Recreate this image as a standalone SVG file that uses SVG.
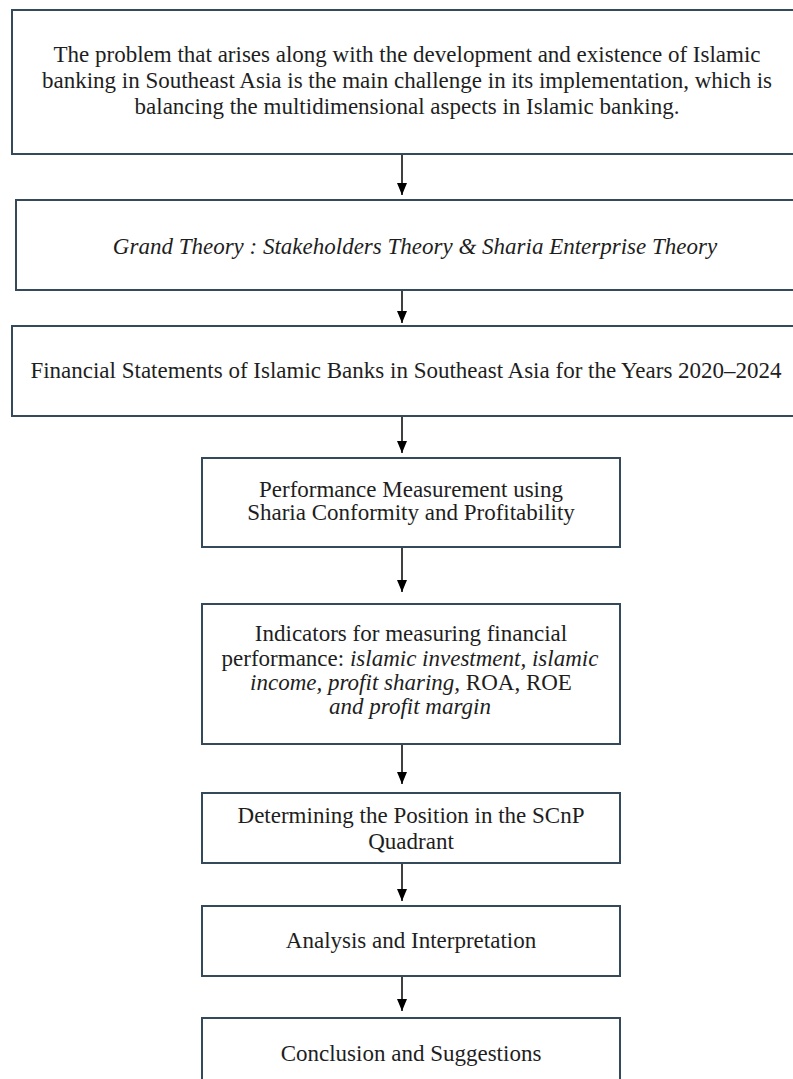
<svg xmlns="http://www.w3.org/2000/svg" width="793" height="1079" viewBox="0 0 793 1079">
<style>
.box{fill:#fff;stroke:#34495a;stroke-width:2}
.t{font-family:"Liberation Serif","Times New Roman",serif;font-size:23px;fill:#1e1e1e;text-anchor:middle}
.i{font-style:italic}
.c{stroke:#000;stroke-width:1.5;fill:none;marker-end:url(#ah)}
</style>
<defs>
<marker id="ah" markerWidth="12" markerHeight="10" refX="12" refY="5" orient="auto" markerUnits="userSpaceOnUse" viewBox="0 0 12 10">
<path d="M0,0 L12,5 L0,10 Z" fill="#000"/>
</marker>
</defs>
<rect width="793" height="1079" fill="#fff"/>
<g id="n1"><rect class="box" x="12" y="10" width="800" height="144"/>
<text class="t" x="407" y="62">The problem that arises along with the development and existence of Islamic</text>
<text class="t" x="407" y="88">banking in Southeast Asia is the main challenge in its implementation, which is</text>
<text class="t" x="407" y="114">balancing the multidimensional aspects in Islamic banking.</text></g>
<g id="n2"><rect class="box" x="16" y="200" width="800" height="90"/>
<text class="t i" x="415" y="254">Grand Theory : Stakeholders Theory &amp; Sharia Enterprise Theory</text></g>
<g id="n3"><rect class="box" x="12" y="326" width="800" height="90"/>
<text class="t" x="406" y="378">Financial Statements of Islamic Banks in Southeast Asia for the Years 2020–2024</text></g>
<g id="n4"><rect class="box" x="202" y="458" width="418" height="89"/>
<text class="t" x="411" y="497">Performance Measurement using</text>
<text class="t" x="411" y="520">Sharia Conformity and Profitability</text></g>
<g id="n5"><rect class="box" x="202" y="604" width="418" height="140"/>
<text class="t" x="411" y="641">Indicators for measuring financial</text>
<text class="t" x="410" y="666">performance: <tspan class="i">islamic investment, islamic</tspan></text>
<text class="t" x="411" y="690"><tspan class="i">income, profit sharing,</tspan> ROA, ROE</text>
<text class="t i" x="410" y="714">and profit margin</text></g>
<g id="n6"><rect class="box" x="202" y="793" width="418" height="70"/>
<text class="t" x="411" y="823">Determining the Position in the SCnP</text>
<text class="t" x="411" y="849">Quadrant</text></g>
<g id="n7"><rect class="box" x="202" y="906" width="418" height="70"/>
<text class="t" x="411" y="948">Analysis and Interpretation</text></g>
<g id="n8"><rect class="box" x="202" y="1018" width="418" height="80"/>
<text class="t" x="411" y="1061">Conclusion and Suggestions</text></g>
<g id="connectors">
<line class="c" x1="402" y1="155" x2="402" y2="195"/>
<line class="c" x1="402" y1="291" x2="402" y2="323"/>
<line class="c" x1="402" y1="417" x2="402" y2="453"/>
<line class="c" x1="402" y1="548" x2="402" y2="592"/>
<line class="c" x1="402" y1="745" x2="402" y2="784"/>
<line class="c" x1="402" y1="864" x2="402" y2="901"/>
<line class="c" x1="402" y1="977" x2="402" y2="1011"/>
</g>
</svg>
